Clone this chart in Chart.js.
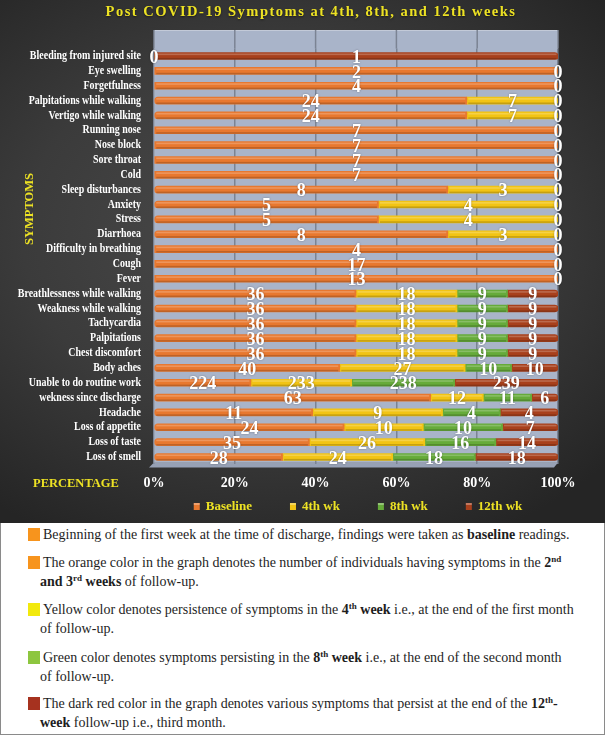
<!DOCTYPE html>
<html><head><meta charset="utf-8">
<script src="https://cdn.jsdelivr.net/npm/chart.js@4"></script>
<style>
html,body{margin:0;padding:0;background:#fff;}
#wrap{width:605px;height:735px;position:relative;overflow:hidden;}
#top{position:absolute;left:0;top:0;width:605px;height:523px;background:radial-gradient(ellipse 75% 65% at 45% 45%, #4b4b4b 0%, #3b3b3b 55%, #252525 100%);}
#notes{position:absolute;left:0;top:523px;width:603px;height:211px;border:1px solid #8a8a8a;border-top:none;background:#fff;font-family:'Liberation Serif','Times New Roman',serif;font-size:14px;color:#1e1e1e;}
.p{position:absolute;left:39px;white-space:nowrap;line-height:19px;text-indent:3px;}
.sq{position:absolute;left:-12px;top:3px;width:12px;height:13px;}
sup{font-size:9px;line-height:0;vertical-align:5px;}
</style></head>
<body>
<div id="wrap">
  <div id="top"><canvas id="c" width="605" height="523"></canvas></div>
  <div id="notes">
    <div class="p" style="top:1.5px"><span class="sq" style="background:#F7941D"></span>Beginning of the first week at the time of discharge, findings were taken as <b>baseline</b> readings.</div>
    <div class="p" style="top:29.5px"><span class="sq" style="background:#F7941D"></span>The orange color in the graph denotes the number of individuals having symptoms in the <b>2<sup>nd</sup></b><br><b>and 3<sup>rd</sup> weeks</b> of follow-up.</div>
    <div class="p" style="top:76.5px"><span class="sq" style="background:#F2E90D"></span>Yellow color denotes persistence of symptoms in the <b>4<sup>th</sup> week</b> i.e., at the end of the first month<br>of follow-up.</div>
    <div class="p" style="top:124.5px"><span class="sq" style="background:#8DC63F"></span>Green color denotes symptoms persisting in the <b>8<sup>th</sup> week</b> i.e., at the end of the second month<br>of follow-up.</div>
    <div class="p" style="top:170.5px"><span class="sq" style="background:#A6321F"></span>The dark red color in the graph denotes various symptoms that persist at the end of the <b>12<sup>th</sup>-</b><br><b>week</b> follow-up i.e., third month.</div>
  </div>
</div>
<script>
const symptoms = ['Bleeding from injured site','Eye swelling','Forgetfulness','Palpitations while walking','Vertigo while walking','Running nose','Nose block','Sore throat','Cold','Sleep disturbances','Anxiety','Stress','Diarrhoea','Difficulty in breathing','Cough','Fever','Breathlessness while walking','Weakness while walking','Tachycardia','Palpitations','Chest discomfort','Body aches','Unable to do routine work','wekness since discharge','Headache','Loss of appetite','Loss of taste','Loss of smell'];
const baseline = [0,2,4,24,24,7,7,7,7,8,5,5,8,4,17,13,36,36,36,36,36,40,224,63,11,24,35,28];
const wk4      = [null,0,0,7,7,0,0,0,0,3,4,4,3,0,0,0,18,18,18,18,18,27,233,12,9,10,26,24];
const wk8      = [null,null,null,0,0,null,null,null,null,0,0,0,0,null,null,null,9,9,9,9,9,10,238,11,4,10,16,18];
const wk12     = [1,null,null,null,null,null,null,null,null,null,null,null,null,null,null,null,9,9,9,9,9,10,239,6,4,7,14,18];
const seriesNames = ['Baseline','4th wk','8th wk','12th wk'];
const xTickValues = [0,20,40,60,80,100];
const titleText = 'Post COVID-19 Symptoms at 4th, 8th, and 12th weeks';

const colors = ['#E8782F','#F2C414','#66AB3A','#A8401C'];
const series = [baseline, wk4, wk8, wk12];
const totals = symptoms.map((_, i) => series.reduce((s, arr) => s + (arr[i] || 0), 0));
const toPct = arr => arr.map((v, i) => v == null ? null : v / totals[i] * 100);

const YELLOW = '#EDE224';
const SERIF = "'Liberation Serif','Times New Roman',serif";

const wallPlugin = {
  id: 'wall',
  beforeDraw(chart) {
    const {ctx, chartArea: a, scales: {x}} = chart;
    const wallTop = 30, wallBottom = a.bottom - 2;
    ctx.save();
    ctx.fillStyle = '#a9b4c9';
    ctx.fillRect(a.left, wallTop, a.right - a.left, wallBottom - wallTop);
    ctx.strokeStyle = '#c3cad8';
    ctx.lineWidth = 1;
    ctx.strokeRect(a.left + 0.5, wallTop + 0.5, a.right - a.left - 1, wallBottom - wallTop);
    ctx.fillStyle = '#97a1b5';
    ctx.beginPath();
    ctx.moveTo(a.left, wallBottom);
    ctx.lineTo(a.right, wallBottom);
    ctx.lineTo(a.right - 4, wallBottom + 5);
    ctx.lineTo(a.left - 5, wallBottom + 5);
    ctx.closePath();
    ctx.fill();
    ctx.strokeStyle = '#7b8393';
    ctx.lineWidth = 1.5;
    x.ticks.forEach(t => {
      const px = x.getPixelForValue(t.value);
      ctx.beginPath();
      ctx.moveTo(px, wallTop);
      ctx.lineTo(px, a.top);
      ctx.stroke();
    });
    ctx.restore();
  }
};

const barLabelPlugin = {
  id: 'barLabels',
  afterDatasetsDraw(chart) {
    const ctx = chart.ctx;
    ctx.save();
    chart.data.datasets.forEach((ds, di) => {
      chart.getDatasetMeta(di).data.forEach((el, i) => {
        if (ds.data[i] == null) return;
        const l = Math.min(el.x, el.base), r = Math.max(el.x, el.base);
        const w = r - l - 3;
        if (w <= 0) return;
        ctx.fillStyle = 'rgba(255,255,255,0.22)';
        ctx.fillRect(l + 1.5, el.y - el.height / 2 + 1, w, 1.6);
        ctx.fillStyle = 'rgba(0,0,0,0.18)';
        ctx.fillRect(l + 1.5, el.y + el.height / 2 - 1.6, w, 1.6);
      });
    });
    ctx.font = "bold 18px " + SERIF;
    ctx.fillStyle = '#ffffff';
    ctx.textAlign = 'center';
    ctx.textBaseline = 'middle';
    ctx.shadowColor = 'rgba(0,0,0,0.35)';
    ctx.shadowBlur = 2;
    chart.data.datasets.forEach((ds, di) => {
      chart.getDatasetMeta(di).data.forEach((el, i) => {
        const v = ds.counts[i];
        if (v == null) return;
        ctx.fillText(String(v), (el.x + el.base) / 2, el.y + 2);
      });
    });
    ctx.restore();
  },
  afterDraw(chart) {
    const {ctx, chartArea: a, scales: {x, y}} = chart;
    // title (letter-spaced)
    ctx.save();
    ctx.fillStyle = YELLOW;
    ctx.font = "bold 14.5px " + SERIF;
    ctx.textAlign = 'center';
    ctx.textBaseline = 'middle';
    ctx.shadowColor = 'rgba(0,0,0,0.5)';
    ctx.shadowBlur = 2;
    ctx.shadowOffsetY = 1;
    if ('letterSpacing' in ctx) ctx.letterSpacing = '1.5px';
    ctx.fillText(titleText, 311, 12);
    ctx.restore();
    // category labels (condensed serif)
    ctx.save();
    ctx.fillStyle = '#ffffff';
    ctx.font = "bold 12px " + SERIF;
    ctx.textAlign = 'right';
    ctx.textBaseline = 'middle';
    y.getLabels().forEach((lab, i) => {
      ctx.save();
      ctx.translate(a.left - 13, y.getPixelForTick(i));
      ctx.scale(0.83, 1);
      ctx.fillText(lab, 0, 0);
      ctx.restore();
    });
    ctx.restore();
    // vertical axis label
    ctx.save();
    ctx.fillStyle = YELLOW;
    ctx.font = "bold 12.5px " + SERIF;
    ctx.textAlign = 'center';
    ctx.textBaseline = 'middle';
    ctx.translate(30, 209);
    ctx.rotate(-Math.PI / 2);
    ctx.fillText('SYMPTOMS', 0, 0);
    ctx.restore();
    ctx.save();
    ctx.fillStyle = YELLOW;
    ctx.font = "bold 12.5px " + SERIF;
    ctx.textAlign = 'left';
    ctx.textBaseline = 'middle';
    ctx.fillText('PERCENTAGE', 33, 484);
    // legend
    ctx.font = "bold 13px " + SERIF;
    const box = 6, gapT = 6, gapI = 38;
    const items = chart.data.datasets.map(ds => ({text: ds.label, color: ds.backgroundColor, w: box + gapT + ctx.measureText(ds.label).width}));
    const total = items.reduce((s, it) => s + it.w, 0) + gapI * (items.length - 1);
    let cx = (a.left + a.right) / 2 + 2 - total / 2;
    const ly = 507;
    items.forEach(it => {
      ctx.fillStyle = it.color;
      ctx.fillRect(cx, ly - box / 2 - 1, box, box + 1);
      ctx.fillStyle = 'rgba(255,255,255,0.3)';
      ctx.fillRect(cx, ly - box / 2 - 1, box, 2);
      ctx.fillStyle = YELLOW;
      ctx.fillText(it.text, cx + box + gapT, ly);
      cx += it.w + gapI;
    });
    ctx.restore();
  }
};

new Chart(document.getElementById('c'), {
  type: 'bar',
  data: {
    labels: symptoms,
    datasets: series.map((arr, k) => ({
      label: seriesNames[k],
      data: toPct(arr),
      counts: arr,
      backgroundColor: colors[k],
      barThickness: 7,
      borderRadius: 3.5,
      borderSkipped: 'middle'
    }))
  },
  options: {
    indexAxis: 'y',
    responsive: false,
    animation: false,
    layout: {padding: {left: 0, right: 47, top: 48.6, bottom: 28.6}},
    plugins: {
      legend: {display: false},
      tooltip: {enabled: false},
      title: {display: false}
    },
    scales: {
      x: {
        stacked: true,
        min: 0,
        max: 100,
        afterBuildTicks: s => { s.ticks = xTickValues.map(v => ({value: v})); },
        afterFit: s => { s.height = 30; },
        ticks: {callback: v => v + '%', color: '#ffffff', font: {family: SERIF, size: 14, weight: 'bold'}, padding: 11, maxRotation: 0},
        grid: {color: '#7b8393', lineWidth: 1.5, drawTicks: false},
        border: {display: false}
      },
      y: {
        stacked: true,
        afterFit: s => { s.width = 154; },
        ticks: {display: false, autoSkip: false},
        grid: {display: false},
        border: {display: false}
      }
    }
  },
  plugins: [wallPlugin, barLabelPlugin]
});
</script>
</body></html>
